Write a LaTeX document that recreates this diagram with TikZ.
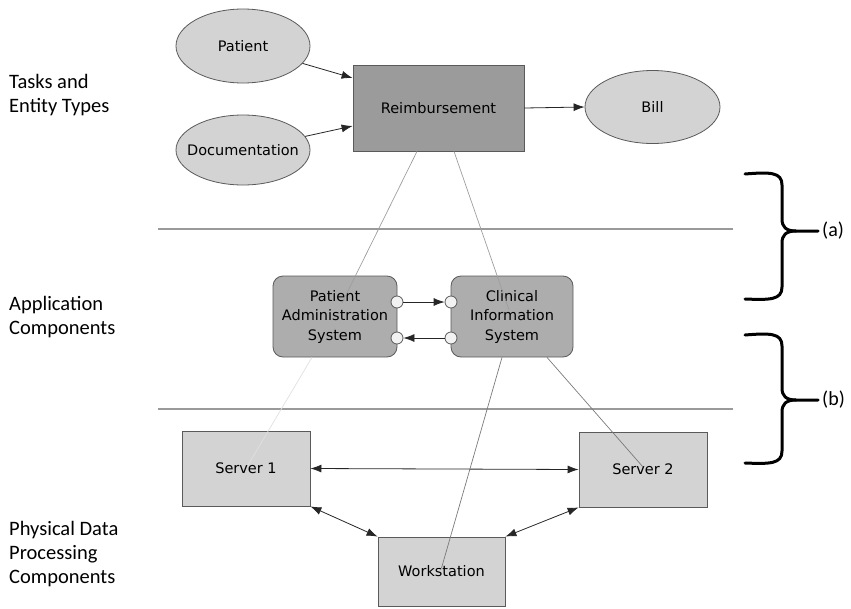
\documentclass[tikz,border=0pt]{standalone}
\usepackage{fontspec}
\setmainfont{Carlito}
\newfontfamily\diagfont{DejaVu Sans}
\usetikzlibrary{shapes.geometric,arrows.meta}

\definecolor{entityfill}{HTML}{D3D3D3}
\definecolor{taskfill}{HTML}{9B9B9B}
\definecolor{appfill}{HTML}{ADADAD}
\definecolor{portfill}{HTML}{F2F2F2}
\definecolor{edgecol}{HTML}{5A5A5A}
\definecolor{layerline}{HTML}{9A9A9A}

% zero-width text so an ellipse keeps its given size
\newcommand{\zerowd}[1]{\makebox[0pt][c]{#1}}

\tikzset{
  diagtext/.style={font=\diagfont\fontsize{14.5}{19.5}\selectfont, text=black, align=center, inner sep=0pt},
  entity/.style={diagtext, ellipse, draw=edgecol, line width=0.8pt, fill=entityfill},
  task/.style={diagtext, rectangle, draw=edgecol, line width=0.8pt, fill=taskfill},
  appbox/.style={diagtext, rectangle, rounded corners=10pt, draw=edgecol, line width=0.8pt, fill=appfill},
  hostbox/.style={diagtext, rectangle, draw=edgecol, line width=0.8pt, fill=entityfill},
  port/.style={circle, draw=edgecol, line width=0.8pt, fill=portfill, minimum size=12pt, inner sep=0pt},
  tip/.tip={Latex[length=11pt,width=8pt]},
  flow/.style={draw=black!85, line width=0.8pt, -tip},
  biflow/.style={draw=black!85, line width=0.8pt, tip-tip},
  mapline/.style={line width=0.7pt},
  layerlabel/.style={font=\fontsize{20.5}{24}\selectfont, anchor=base west, inner sep=0pt},
  bracelabel/.style={font=\fontsize{20}{24}\selectfont, anchor=west, inner sep=0pt},
  brace/.style={line width=3pt, black, line cap=round, line join=round},
}

\begin{document}
\begin{tikzpicture}[x=1pt, y=-1pt]
  \useasboundingbox (0,0) rectangle (851,608);

  % layer separators
  \coordinate (sepAL) at (158,229);
  \coordinate (sepAR) at (733,229);
  \coordinate (sepBL) at (158,409);
  \coordinate (sepBR) at (733,409);
  \draw[layerline, line width=1.3pt] (sepAL) -- (sepAR);
  \draw[layerline, line width=1.3pt] (sepBL) -- (sepBR);

  % layer names
  \node[layerlabel] (lt1) at (9,88) {Tasks and};
  \node[layerlabel] (lt2) at (9,112) {Entity Types};
  \node[layerlabel] (la1) at (9,310) {Application};
  \node[layerlabel] (la2) at (9,334) {Components};
  \node[layerlabel] (lp1) at (9,535.5) {Physical Data};
  \node[layerlabel] (lp2) at (9,559.5) {Processing};
  \node[layerlabel] (lp3) at (9,583.5) {Components};

  % tasks and entity types
  \node[entity, minimum width=134pt, minimum height=74pt] (patient) at (243,46) {\zerowd{Patient}};
  \node[entity, minimum width=134pt, minimum height=70pt] (doc) at (243,150) {\zerowd{Documentation}};
  \node[task, minimum width=171pt, minimum height=86pt] (reimb) at (438.5,108) {Reimbursement};
  \node[entity, minimum width=135pt, minimum height=73pt] (bill) at (652.5,107) {\zerowd{Bill}};

  \draw[flow] (patient) -- ([yshift=30pt]reimb.west);
  \draw[flow] (doc) -- ([yshift=-18pt]reimb.west);
  \draw[flow] (reimb.east) -- (bill.west);

  % application components
  \node[appbox, minimum width=124pt, minimum height=81pt] (pas) at (335,316.5) {Patient\\Administration\\System};
  \node[appbox, minimum width=122pt, minimum height=81pt] (cis) at (512,316.5) {Clinical\\Information\\System};

  \node[port] (p1) at (397,302) {};
  \node[port] (p2) at (397,338) {};
  \node[port] (p3) at (451,302) {};
  \node[port] (p4) at (451,338) {};
  \draw[flow] (p1) -- (p3);
  \draw[flow] (p4) -- (p2);

  % physical components
  \node[hostbox, minimum width=128pt, minimum height=75pt] (s1) at (246,468.5) {Server 1};
  \node[hostbox, minimum width=128pt, minimum height=75pt] (s2) at (643,469.5) {Server 2};
  \node[hostbox, minimum width=127pt, minimum height=69pt] (ws) at (441.5,571.5) {Workstation};

  \draw[biflow] (s1.east) -- (s2.west);
  \draw[biflow] (s1.south east) -- (ws.north west);
  \draw[biflow] (s2.south west) -- (ws.north east);

  % mappings between layers
  \draw[mapline, draw=black!38] ([xshift=-21.5pt]reimb.south) -- ([xshift=7pt,yshift=13.5pt]pas.center);
  \draw[mapline, draw=black!38] ([xshift=15.5pt]reimb.south) -- ([xshift=-3pt,yshift=6.5pt]cis.center);
  \draw[mapline, draw=black!12] ([xshift=-23pt]pas.south) -- ([xshift=2pt,yshift=3.5pt]s1.center);
  \draw[mapline, draw=black!52] ([xshift=-10pt]cis.south) -- ([yshift=3.5pt]ws.center);
  \draw[mapline, draw=black!52] ([xshift=35pt]cis.south) -- ([yshift=2.5pt]s2.center);

  % braces
  \draw[brace] (745,174) .. controls (770,172) and (782,172) .. (782,185)
    -- (782,219) .. controls (782,227) and (786,231) .. (796,231) -- (818,231);
  \draw[brace] (745,299) .. controls (770,300) and (782,300) .. (782,287)
    -- (782,243) .. controls (782,235) and (786,231) .. (796,231);
  \draw[brace] (745,335) .. controls (770,333) and (782,333) .. (782,346)
    -- (782,388) .. controls (782,396) and (786,400) .. (796,400) -- (818,400);
  \draw[brace] (745,463) .. controls (770,464) and (782,464) .. (782,451)
    -- (782,412) .. controls (782,404) and (786,400) .. (796,400);
  \node[bracelabel] (ba) at (822,231) {(a)};
  \node[bracelabel] (bb) at (822,400) {(b)};
\end{tikzpicture}
\end{document}
